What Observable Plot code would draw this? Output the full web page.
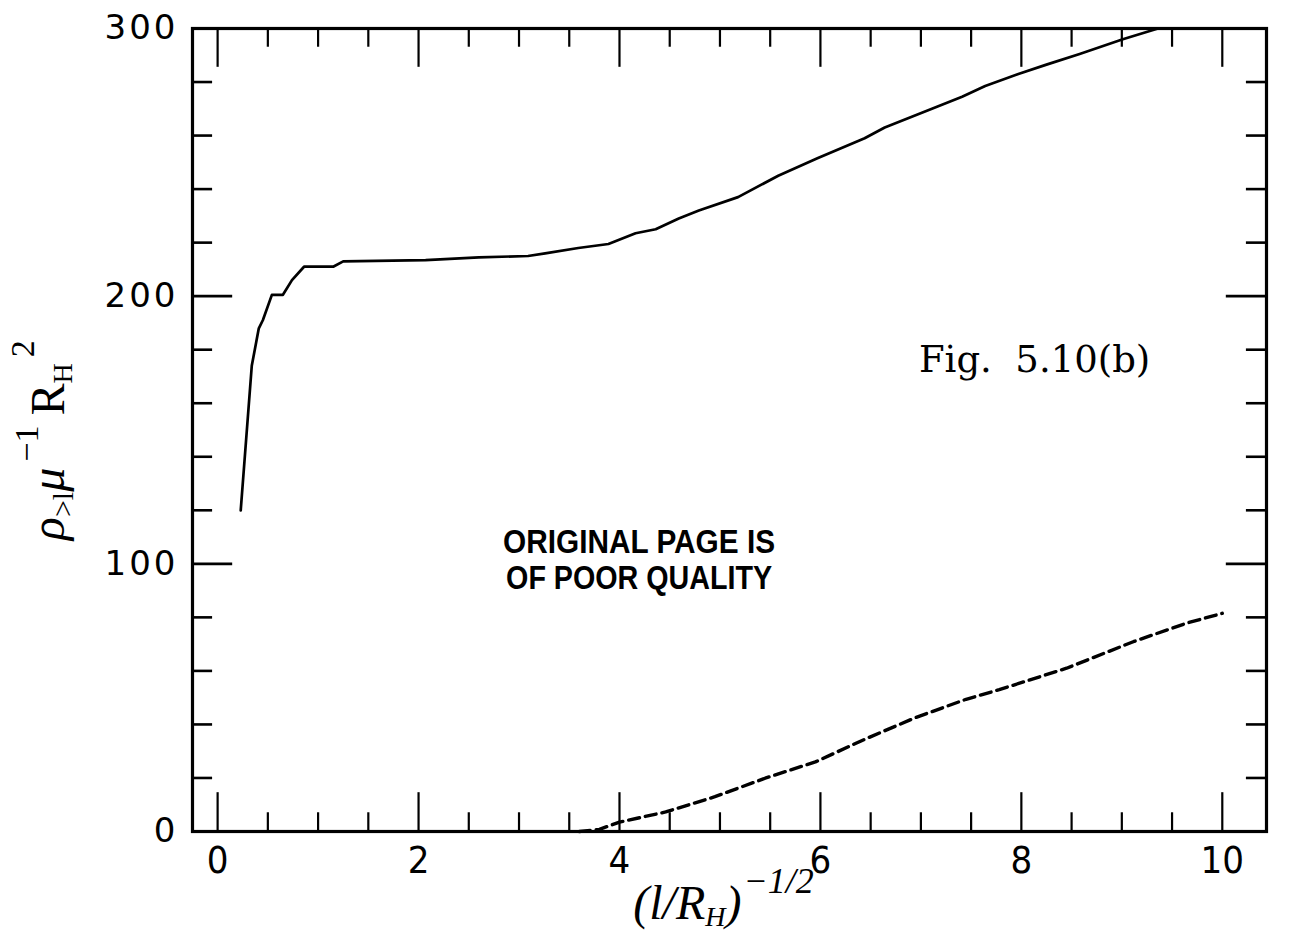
<!DOCTYPE html>
<html><head><meta charset="utf-8">
<script src="https://cdn.jsdelivr.net/npm/d3@7"></script>
<script src="https://cdn.jsdelivr.net/npm/@observablehq/plot@0.6"></script>
<style>
html,body{margin:0;padding:0;background:#fff;}
#chart svg{display:block;background:#fff;}
</style></head>
<body><div id="chart"></div>
<script>
// ---- data ----
const solidX = [0.23,0.34,0.41,0.45,0.54,0.65,0.74,0.86,1.15,1.25,2.07,2.6,3.09,3.26,3.59,3.89,4.16,4.36,4.59,4.79,5.18,5.58,5.97,6.44,6.64,7.11,7.41,7.64,7.97,8.25,8.58,9.01,9.36];
const solidY = [120,174,188,191,200.5,200.5,206,211,211,213,213.5,214.5,215,216,218,219.5,223.5,225,229,232,237,245,251.5,259,263,270,274.5,278.5,283,286.5,290.5,296,300];
const dashX = [3.6,3.8,4.0,4.46,4.95,5.45,5.95,6.45,6.95,7.45,7.78,8.45,9.12,9.66,10.0];
const dashY = [0,0.8,3.5,7.3,13,19.9,26,34.6,42.6,49.4,53,61,71,78,81.5];
const xMajor = [0,2,4,6,8,10];
const xMinor = [0.5,1,1.5,2.5,3,3.5,4.5,5,5.5,6.5,7,7.5,8.5,9,9.5];
const yMajor = [0,100,200,300];
const yMinor = [20,40,60,80,120,140,160,180,220,240,260,280];
const figLabel = "Fig.\u00a0 5.10(b)";
const stampLines = ["ORIGINAL PAGE IS","OF POOR QUALITY"];

const solid = solidX.map((x,i)=>({x, y: solidY[i]}));
const dashed = dashX.map((x,i)=>({x, y: dashY[i]}));

const W = 1289, H = 939;
const xDom = [-0.25, 10.44], yDom = [0, 300];
const xMajLen = 0.4, xMinLen = 0.2;   // y-tick lengths in x units
const yMajLen = 14.5, yMinLen = 7;    // x-tick lengths in y units

const chart = Plot.plot({
  width: W, height: H,
  marginLeft: 192, marginRight: 23, marginTop: 28, marginBottom: 108,
  x: {domain: xDom},
  y: {domain: yDom},
  style: {background: "#fff"},
  marks: [
    Plot.ruleX(xMajor, {x: d=>d, y1: yDom[0], y2: yDom[0]+yMajLen, strokeWidth: 2.2, stroke: "#000"}),
    Plot.ruleX(xMinor, {x: d=>d, y1: yDom[0], y2: yDom[0]+yMinLen, strokeWidth: 2.2, stroke: "#000"}),
    Plot.ruleX(xMajor, {x: d=>d, y1: yDom[1], y2: yDom[1]-yMajLen, strokeWidth: 2.2, stroke: "#000"}),
    Plot.ruleX(xMinor, {x: d=>d, y1: yDom[1], y2: yDom[1]-yMinLen, strokeWidth: 2.2, stroke: "#000"}),
    Plot.ruleY(yMajor, {y: d=>d, x1: xDom[0], x2: xDom[0]+xMajLen, strokeWidth: 2.6, stroke: "#000"}),
    Plot.ruleY(yMinor, {y: d=>d, x1: xDom[0], x2: xDom[0]+xMinLen, strokeWidth: 2.6, stroke: "#000"}),
    Plot.ruleY(yMajor, {y: d=>d, x1: xDom[1], x2: xDom[1]-xMajLen, strokeWidth: 2.6, stroke: "#000"}),
    Plot.ruleY(yMinor, {y: d=>d, x1: xDom[1], x2: xDom[1]-xMinLen, strokeWidth: 2.6, stroke: "#000"}),
    Plot.line(solid, {x: "x", y: "y", stroke: "#000", strokeWidth: 2.7}),
    Plot.line(dashed, {x: "x", y: "y", stroke: "#000", strokeWidth: 3.4, strokeDasharray: "11,6"}),
    Plot.frame({stroke: "#000", strokeWidth: 3.2}),
    Plot.axisX(xMajor, {tickSize: 0, tickPadding: 15, fontSize: 38, fontFamily: "'DejaVu Sans Condensed','DejaVu Sans',sans-serif", fill: "#000", tickFormat: d=>String(d), label: null}),
    Plot.axisY(yMajor, {tickSize: 0, tickPadding: 14, fontSize: 34, fontFamily: "'DejaVu Sans',sans-serif", fill: "#000", tickFormat: d=>String(d), label: null}),
    Plot.text([figLabel], {x: () => 6.98, y: () => 176, text: d=>d, textAnchor: "start", fontSize: 37, fontFamily: "'DejaVu Serif',serif", fill: "#000"})
  ]
});

const svg = d3.select(chart);
svg.selectAll('g[aria-label="y-axis tick label"] text').attr("letter-spacing", 3);

const sx = chart.scale("x"), sy = chart.scale("y");

stampLines.forEach((t, i) => {
  svg.append("text")
    .attr("x", sx.apply(4.2)).attr("y", sy.apply(i === 0 ? 104 : 90.5))
    .attr("text-anchor", "middle")
    .attr("font-family", "'Liberation Sans',Arial,sans-serif")
    .attr("font-weight", "bold").attr("font-size", 33)
    .attr("textLength", i === 0 ? 272 : 266).attr("lengthAdjust", "spacingAndGlyphs")
    .text(t);
});

// x axis title: (l/R_H)^{-1/2}
const xt = svg.append("text")
  .attr("x", sx.apply(5.04)).attr("y", 919)
  .attr("text-anchor", "middle")
  .attr("font-family", "'Liberation Serif','DejaVu Serif',serif")
  .attr("font-style", "italic").attr("font-size", 48);
xt.append("tspan").text("(l/R");
xt.append("tspan").attr("font-size", 28).attr("dy", 7).text("H");
xt.append("tspan").attr("dy", -7).text(")");
xt.append("tspan").attr("font-size", 36).attr("dy", -26).attr("dx", 2).text("\u22121/2");

// y axis title: ρ_{>l} μ^{-1} R_H^2 (rotated)
const yt = svg.append("text")
  .attr("transform", `translate(64,${sy.apply(146)}) rotate(-90)`)
  .attr("text-anchor", "middle")
  .attr("font-family", "'Liberation Serif','DejaVu Serif',serif")
  .attr("font-size", 48);
yt.append("tspan").attr("font-style", "italic").text("ρ");
yt.append("tspan").attr("font-size", 30).attr("dy", 9).text(">l");
yt.append("tspan").attr("font-style", "italic").attr("dy", -9).text("μ");
yt.append("tspan").attr("font-size", 34).attr("dy", -26).attr("dx", 6).text("\u22121");
yt.append("tspan").attr("dy", 26).attr("dx", 10).text("R");
yt.append("tspan").attr("font-size", 28).attr("dy", 8).text("H");
yt.append("tspan").attr("font-size", 34).attr("dy", -38).attr("dx", 6).text("2");

document.getElementById("chart").appendChild(chart);
</script>
</body></html>
